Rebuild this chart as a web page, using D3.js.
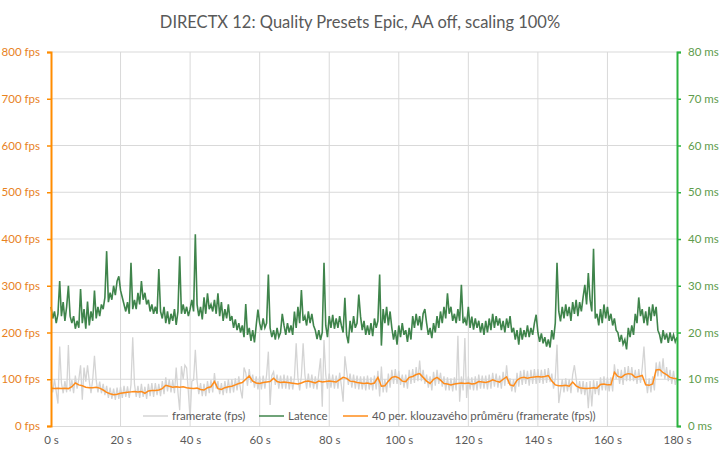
<!DOCTYPE html>
<html>
<head>
<meta charset="utf-8">
<script src="https://cdn.jsdelivr.net/npm/d3@7"></script>
<style>
  body { margin: 0; background: #ffffff; }
  svg text { font-family: Lato, "Open Sans", sans-serif; }
</style>
</head>
<body>
<div id="chart"></div>
<script>
var titleText = "DIRECTX 12: Quality Presets Epic, AA off, scaling 100%";
var legendNames = ["framerate (fps)", "Latence", "40 per. klouzavého průměru (framerate (fps))"];
var xTicks = [0, 20, 40, 60, 80, 100, 120, 140, 160, 180];
var fpsTicks = [0, 100, 200, 300, 400, 500, 600, 700, 800];
var msTicks = [0, 10, 20, 30, 40, 50, 60, 70, 80];

// samples every 0.5 s (t = 0, 0.5, 1, ... 180)
var latency = [
  25.5,23.0, 24.5,22.0, 24.0,31.0, 23.5,26.5, 22.5,25.5, 30.0,23.5, 22.0,23.5, 20.8,22.5, 21.0,29.3, 22.0,25.0,
  20.8,26.6, 21.5,24.5, 22.5,29.0, 23.0,25.5, 23.5,26.0, 25.0,27.5, 37.4,26.5, 28.5,27.0, 30.0,28.0, 31.0,32.0,
  29.0,27.5, 26.0,24.5, 26.5,24.0, 34.9,25.0, 27.0,25.0, 28.5,26.0, 31.0,27.0, 28.5,26.0, 27.0,24.5, 26.0,24.0,
  25.5,24.0, 33.6,24.5, 23.0,25.5, 22.0,24.5, 21.8,24.0, 22.5,25.0, 21.6,24.5, 36.3,24.0, 26.0,24.0, 25.5,23.5,
  25.0,27.0, 24.5,41.0, 26.0,23.5, 25.5,22.8, 27.5,24.0, 28.4,25.0, 26.0,24.5, 27.0,24.0, 28.4,23.5, 26.5,22.5,
  25.0,23.0, 26.0,22.5, 23.5,21.0, 22.8,20.5, 22.0,20.0, 21.5,19.0, 26.1,19.5, 21.0,18.2, 20.5,17.9, 21.5,24.9,
  22.0,20.5, 23.0,21.0, 22.0,32.4, 21.0,19.0, 20.5,18.5, 21.0,19.0, 20.0,24.0, 21.5,19.5, 22.0,20.0, 21.5,19.5,
  24.5,21.0, 25.5,22.0, 29.1,22.5, 23.5,21.5, 24.5,22.0, 24.0,21.5, 20.5,18.6, 20.5,18.4, 20.0,34.9, 21.5,19.0,
  23.5,21.0, 23.8,20.8, 23.0,21.0, 23.5,21.5, 20.0,27.4, 19.5,17.7, 22.5,20.0, 23.5,21.0, 22.0,28.1, 23.5,20.5,
  22.5,19.5, 21.5,19.5, 22.0,19.2, 23.0,21.0, 22.5,32.4, 17.2,25.0, 22.0,25.5, 21.5,24.5, 21.0,18.5, 20.5,17.4,
  21.5,19.0, 22.0,19.5, 20.5,18.0, 21.0,18.5, 23.5,21.0, 24.0,21.5, 23.5,20.5, 24.0,25.0, 22.0,19.5, 21.0,18.8,
  22.0,20.0, 23.5,21.0, 24.5,22.0, 25.5,23.0, 28.4,24.0, 25.5,22.5, 24.0,22.0, 25.0,22.5, 30.2,22.0, 23.0,21.5,
  25.5,21.0, 23.4,20.6, 23.0,21.0, 22.5,20.0, 22.0,19.5, 22.5,20.0, 23.0,20.5, 24.0,21.0, 23.5,21.5, 23.0,20.5,
  22.5,20.0, 23.0,21.0, 23.5,20.0, 21.0,18.5, 20.5,17.4, 21.0,18.5, 20.5,19.0, 21.5,19.0, 21.0,19.5, 22.0,23.8,
  20.0,18.0, 19.8,17.7, 19.0,17.0, 18.5,16.8, 20.5,18.5, 22.0,34.9, 24.5,22.4, 25.5,23.0, 26.0,23.5, 25.5,22.5,
  26.5,24.0, 27.0,23.5, 26.5,24.5, 27.5,30.2, 26.0,32.7, 27.0,24.5, 37.9,23.0, 24.0,21.5, 25.0,22.0, 26.0,23.0,
  25.5,22.5, 24.0,21.5, 23.0,20.5, 20.0,18.0, 19.5,17.5, 18.5,16.4, 21.0,19.0, 21.5,19.5, 24.0,22.0, 27.5,23.5,
  25.0,22.0, 24.5,21.5, 25.5,22.5, 26.0,23.5, 25.5,20.5, 19.5,17.7, 20.5,18.5, 19.8,17.8, 20.0,18.2, 19.5,18.0,
  19.0
];

// samples every 0.5 s
var framerate = [
  95,72, 100,74, 48,170, 92,70, 96,72, 173,74, 98,70, 108,80, 100,130, 56,125,
  95,130, 96,70, 100,150, 98,72, 95,70, 90,66, 86,60, 82,58, 80,56, 82,58,
  84,60, 86,62, 85,60, 88,190, 90,62, 86,60, 90,62, 84,58, 90,64, 92,62,
  92,66, 90,64, 96,68, 104,74, 100,72, 98,70, 125,72, 34,128, 100,130, 124,72,
  16,96, 98,163, 96,68, 92,64, 90,64, 96,70, 98,72, 113,80, 96,68, 92,66,
  96,70, 100,70, 100,72, 102,76, 106,78, 59,125, 114,86, 122,92, 110,82, 106,78,
  106,78, 108,80, 110,159, 45,108, 116,88, 110,80, 108,80, 110,80, 108,78, 106,78,
  104,177, 104,76, 108,177, 110,80, 112,82, 110,80, 106,78, 112,145, 41,184, 110,80,
  112,82, 110,80, 108,80, 114,86, 52,149, 118,88, 112,82, 110,80, 108,78, 106,78,
  106,76, 108,78, 104,76, 108,78, 118,63, 127,72, 100,72, 112,82, 120,90, 122,90,
  118,88, 110,82, 110,80, 120,90, 122,92, 126,96, 140,96, 120,90, 110,82, 106,76,
  116,86, 120,90, 114,84, 106,76, 104,76, 102,74, 104,76, 193,52, 106,76, 188,60,
  106,78, 104,76, 106,76, 110,80, 108,80, 108,78, 110,80, 114,84, 112,82, 108,80,
  116,86, 130,90, 102,74, 100,72, 114,84, 118,88, 120,90, 118,86, 120,90, 122,90,
  122,92, 120,90, 122,92, 124,94, 112,80, 102,174, 49,74, 100,72, 102,74, 100,70,
  110,130, 102,72, 96,68, 96,66, 94,38, 96,42, 98,68, 96,66, 104,76, 106,76,
  104,74, 104,74, 132,100, 122,90, 120,88, 126,96, 128,96, 126,96, 120,90, 122,92,
  124,170, 104,70, 102,72, 106,76, 136,106, 138,106, 145,100, 126,96, 120,90, 118,88,
  104
];

// moving average, one value per second
var average = [
  81, 80, 81, 80, 81, 80, 84, 92, 88, 86, 83, 82, 82, 83, 81, 77, 72, 69, 67, 68,
  70, 71, 72, 73, 74, 73, 74, 70, 75, 76, 76, 77, 80, 87, 85, 83, 84, 83, 84, 82,
  81, 80, 81, 78, 77, 82, 84, 95, 80, 78, 82, 84, 85, 88, 91, 93, 100, 107, 96, 92,
  91, 93, 94, 95, 102, 95, 93, 94, 93, 92, 91, 90, 92, 95, 96, 94, 92, 96, 94, 95,
  96, 95, 94, 99, 104, 102, 96, 95, 93, 92, 91, 92, 90, 92, 104, 85, 86, 96, 104, 106,
  103, 96, 95, 104, 106, 110, 112, 104, 96, 91, 100, 104, 98, 91, 90, 88, 90, 91, 92, 91,
  92, 90, 91, 95, 94, 93, 95, 99, 96, 94, 100, 105, 88, 86, 98, 103, 104, 102, 104, 105,
  106, 105, 106, 108, 96, 88, 86, 86, 87, 85, 94, 86, 82, 81, 80, 81, 82, 81, 89, 90,
  88, 88, 115, 106, 104, 110, 112, 111, 104, 106, 108, 88, 87, 90, 120, 121, 114, 110, 104, 102,
  101
];

var width = 719, height = 455;
var plotLeft = 51, plotRight = 677, plotTop = 52, plotBottom = 426;

var svg = d3.select("#chart").append("svg")
  .attr("width", width)
  .attr("height", height);

var x = d3.scaleLinear().domain([0, 180]).range([plotLeft, plotRight]);
var yFps = d3.scaleLinear().domain([0, 800]).range([plotBottom, plotTop]);
var yMs = d3.scaleLinear().domain([0, 80]).range([plotBottom, plotTop]);

// title
svg.append("text")
  .attr("x", 360)
  .attr("y", 28)
  .attr("text-anchor", "middle")
  .style("font-size", "16.5px")
  .style("fill", "#595959")
  .text(titleText);

// gridlines
svg.append("g")
  .selectAll("line")
  .data(fpsTicks.slice(1))
  .enter()
  .append("line")
  .attr("x1", plotLeft).attr("x2", plotRight)
  .attr("y1", function(d) { return yFps(d); })
  .attr("y2", function(d) { return yFps(d); })
  .style("stroke", "#d9d9d9");

svg.append("g")
  .selectAll("line")
  .data(xTicks.slice(1, -1))
  .enter()
  .append("line")
  .attr("y1", plotTop).attr("y2", plotBottom)
  .attr("x1", function(d) { return x(d); })
  .attr("x2", function(d) { return x(d); })
  .style("stroke", "#d9d9d9");

// the three series
var halfLine = d3.line()
  .x(function(d, i) { return x(i / 2); });

svg.append("path")
  .attr("d", halfLine.y(function(d) { return yFps(d); })(framerate))
  .style("fill", "none")
  .style("stroke", "#d4d4d4")
  .style("stroke-width", 1.3);

svg.append("path")
  .attr("d", halfLine.y(function(d) { return yMs(d); })(latency))
  .style("fill", "none")
  .style("stroke", "#3f844b")
  .style("stroke-width", 1.6);

var avgLine = d3.line()
  .x(function(d, i) { return x(i); })
  .y(function(d) { return yFps(d); });

svg.append("path")
  .attr("d", avgLine(average))
  .style("fill", "none")
  .style("stroke", "#ff8c1a")
  .style("stroke-width", 1.5);

// x axis
var xAxis = svg.append("g")
  .attr("transform", "translate(0," + plotBottom + ")")
  .call(d3.axisBottom(x).tickValues(xTicks).tickSize(0).tickPadding(10)
    .tickFormat(function(d) { return d + " s"; }));
xAxis.select(".domain").style("stroke", "#d9d9d9");
xAxis.selectAll("text")
  .style("font-size", "11.5px")
  .style("fill", "#595959")
  .style("font-family", "Lato, sans-serif");

// left axis (fps)
var leftAxis = svg.append("g")
  .attr("transform", "translate(" + plotLeft + ",0)")
  .call(d3.axisLeft(yFps).tickValues(fpsTicks).tickSize(4).tickPadding(7)
    .tickFormat(function(d) { return d + " fps"; }));
leftAxis.select(".domain").style("stroke", "#ff8c00").style("stroke-width", 2);
leftAxis.selectAll(".tick line").style("stroke", "#ff8c00").style("stroke-width", 1.5);
leftAxis.selectAll("text")
  .style("font-size", "11.5px")
  .style("fill", "#e8821e")
  .style("font-family", "Lato, sans-serif");

// right axis (ms)
var rightAxis = svg.append("g")
  .attr("transform", "translate(" + plotRight + ",0)")
  .call(d3.axisRight(yMs).tickValues(msTicks).tickSize(4).tickPadding(7)
    .tickFormat(function(d) { return d + " ms"; }));
rightAxis.select(".domain").style("stroke", "#2bb33f").style("stroke-width", 2);
rightAxis.selectAll(".tick line").style("stroke", "#2bb33f").style("stroke-width", 1.5);
rightAxis.selectAll("text")
  .style("font-size", "11.5px")
  .style("fill", "#5e9c4c")
  .style("font-family", "Lato, sans-serif");

// legend
var legendColors = ["#d4d4d4", "#3f844b", "#ff8c1a"];
var legendX = [143, 259, 343];
var legend = svg.append("g")
  .selectAll("g")
  .data(legendNames)
  .enter()
  .append("g")
  .attr("transform", function(d, i) { return "translate(" + legendX[i] + ",416)"; });

legend.append("line")
  .attr("x1", 0).attr("x2", 25)
  .style("stroke", function(d, i) { return legendColors[i]; })
  .style("stroke-width", 1.5);

legend.append("text")
  .attr("x", 29)
  .attr("dy", "0.35em")
  .style("font-size", "11.5px")
  .style("fill", "#595959")
  .text(function(d) { return d; });
</script>
</body>
</html>
